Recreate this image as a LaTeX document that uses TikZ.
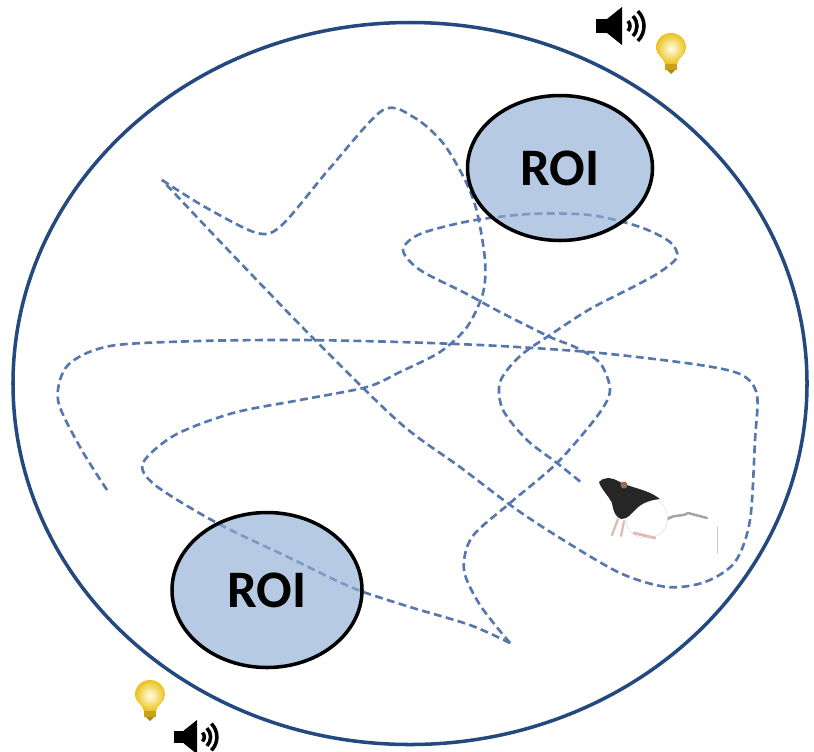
\documentclass[tikz,border=0pt]{standalone}
\usepackage{fontspec}
\newfontfamily\roifont{Carlito}
\usepackage{tikz}
\usetikzlibrary{shapes.geometric}
\usepackage{xcolor}
\definecolor{arenaRim}{HTML}{24497F}
\definecolor{trackBlue}{HTML}{5577AD}
\definecolor{roiFill}{HTML}{90ADD4}
\definecolor{bulbGold}{HTML}{EAC21C}
\definecolor{bulbBase}{HTML}{C9A018}
\definecolor{ratEar}{HTML}{9C6A52}
\definecolor{ratPaw}{HTML}{E2B9B4}
\definecolor{ratTail}{HTML}{A8A2A6}

\begin{document}
\begin{tikzpicture}[
  x=0.2mm, y=-0.2mm,
  rim/.style={draw=arenaRim, line width=2pt},
  track/.style={draw=trackBlue, line width=1.5pt, dash pattern=on 4.5pt off 2.5pt},
  roi/.style={ellipse, draw=black, line width=2pt, fill=roiFill, fill opacity=0.65,
              text opacity=1, inner sep=0pt,
              font=\roifont\bfseries\fontsize{30}{36}\selectfont},
  loudspeaker/.pic={
    \fill (-7,-7) rectangle (5,7);
    \fill (4,-7) -- (19,-19) -- (19,19) -- (4,7) -- cycle;
    \foreach \r in {7,14,21}
      \draw[line width=2pt] (20,0) ++(-45:\r) arc[start angle=-45, end angle=45, radius=\r];
  },
  bulb/.pic={
    \shade[inner color=yellow!10, outer color=bulbGold]
      (-6,13) .. controls (-7,7) and (-15,4) .. (-15,-3)
      .. controls (-15,-12) and (-8,-18) .. (0,-18)
      .. controls (8,-18) and (15,-12) .. (15,-3)
      .. controls (15,4) and (7,7) .. (6,13) -- cycle;
    \fill[bulbBase] (-6,13) rectangle (6,19);
    \fill[bulbBase!85!black] (-4,19) -- (4,19) -- (0,23) -- cycle;
  },
]
\useasboundingbox (0,0) rectangle (814,751);

% ================================ arena ======================================
\draw[rim] (410,383.5) ellipse [x radius=397, y radius=361];

% ============================ path of the animal ============================
% Three smooth runs, joined at the two sharp turns.
\draw[track] plot[smooth] coordinates {
  (107,490) (80,447) (58,400) (68,365) (110,346) (200,341) (300,340) (400,342)
  (500,346) (600,353) (700,365) (742,375) (757,395) (755,440) (750,520)
  (735,562) (705,582) (667,587) (620,573) (560,538) (513,507) (460,467)
  (400,423) (313,338) (230,252) (162,180)};
\draw[track] plot[smooth] coordinates {
  (162,180) (205,207) (257,233) (282,225) (330,168) (383,110) (415,118)
  (443,143) (465,180) (477,212) (485,260) (483,293) (467,327) (440,352)
  (400,372) (367,387) (300,400) (233,413) (175,435) (143,463) (155,485)
  (217,523) (290,558) (353,588) (410,607) (470,625) (510,643)};
\draw[track] plot[smooth] coordinates {
  (510,643) (480,605) (464,570) (472,537) (510,503) (557,463) (598,415)
  (610,390) (600,363) (575,347) (550,337) (500,312) (465,293) (420,270)
  (403,250) (420,234) (470,221) (530,214) (590,215) (640,227) (670,242)
  (677,257) (660,272) (633,287) (590,309) (553,333) (520,356) (500,382)
  (503,410) (527,440) (557,463) (582,483)};

% ====================== regions of interest =================================
\node[roi, minimum width=37mm, minimum height=29mm] (roiNorth) at (560,168) {ROI};
\node[roi, minimum width=38mm, minimum height=31mm] (roiSouth) at (267,590) {ROI};

% ================================= rat ======================================
\draw[ratTail, line width=1.4pt, line cap=round]
  (662,524) .. controls (672,512) and (681,518) .. (688,513) -- (707,518);
\filldraw[fill=white, draw=gray!25, line width=0.3pt]
  (626,503) .. controls (642,492) and (664,496) .. (667,514)
  .. controls (670,530) and (658,539) .. (644,538)
  .. controls (630,537) and (622,524) .. (626,503) -- cycle;
% dark fur over the head and shoulders
\fill[black!85]
  (599,482) .. controls (603,477) and (611,477) .. (618,481)
  .. controls (630,488) and (648,489) .. (660,499)
  .. controls (650,500) and (642,503) .. (636,509)
  .. controls (631,514) and (628,519) .. (621,519)
  .. controls (615,517) and (613,510) .. (612,503)
  .. controls (608,495) and (601,489) .. (599,482) -- cycle;
\fill[ratEar] (624,485) circle [radius=3.5];
\draw[ratPaw, line width=1.3pt, line cap=round] (618,519) -- (612,535) (624,521) -- (621,536);
\draw[ratPaw, line width=1.6pt, line cap=round] (634,533) -- (655,538);
\draw[gray!45, line width=0.4pt] (717,527) -- (717,553);

% ========================== sound and light cues ============================
\pic at (603,26) {loudspeaker};
\pic[scale=0.9] at (180,737) {loudspeaker};
\pic at (671,51) {bulb};
\pic at (150,698) {bulb};
\end{tikzpicture}
\end{document}
